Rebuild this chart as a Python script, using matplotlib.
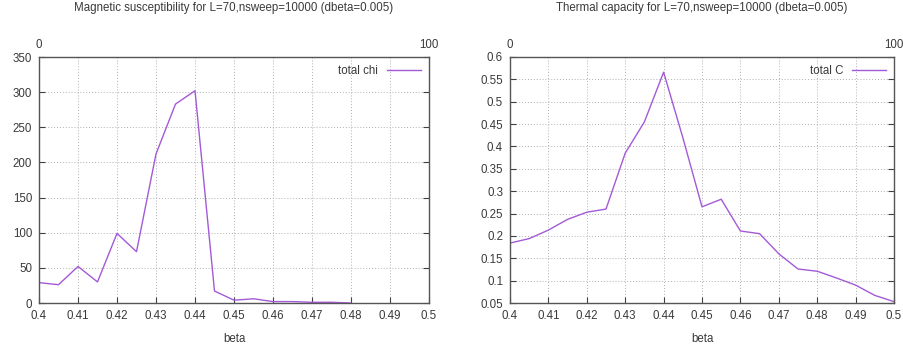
import matplotlib
matplotlib.use('agg')
from matplotlib import pyplot as plt
from matplotlib.ticker import MultipleLocator

plt.rcParams['font.family'] = ['Liberation Sans', 'DejaVu Sans']
plt.rcParams['font.size'] = 8

# beta scan, step dbeta = 0.005
BETA_CHI = [0.400, 0.405, 0.410, 0.415, 0.420, 0.425, 0.430, 0.435, 0.440,
            0.445, 0.450, 0.455, 0.460, 0.465, 0.470, 0.475, 0.480]
CHI = [29, 26, 52, 30, 99, 73, 212, 283, 302,
       17, 4, 6, 2, 2, 1, 1, 0]

BETA_C = [0.400, 0.405, 0.410, 0.415, 0.420, 0.425, 0.430, 0.435, 0.440,
          0.445, 0.450, 0.455, 0.460, 0.465, 0.470, 0.475, 0.480, 0.485,
          0.490, 0.495, 0.500]
HEAT_C = [0.184, 0.194, 0.213, 0.237, 0.253, 0.260, 0.385, 0.455, 0.566,
          0.420, 0.265, 0.282, 0.211, 0.205, 0.160, 0.126, 0.121, 0.106,
          0.090, 0.067, 0.053]

LINE_COLOR = '#a35ad6'
TEXT_COLOR = '#3a3a3a'
W, H = 904, 348


def gnuplot_panel(rect, x, y, label, title, ylim, ystep, yfmt):
    ax = fig.add_axes(rect)
    ax.plot(x, y, color=LINE_COLOR, lw=1.0, label=label)
    ax.set_xlim(0.4, 0.5)
    ax.set_ylim(*ylim)
    ax.xaxis.set_major_locator(MultipleLocator(0.01))
    ax.yaxis.set_major_locator(MultipleLocator(ystep))
    ax.xaxis.set_major_formatter(lambda v, p: ('%.2f' % v).rstrip('0').rstrip('.'))
    ax.yaxis.set_major_formatter(yfmt)
    ax.grid(True, color='#b0b0b0', linestyle=(0, (1, 2)), lw=0.7)
    ax.tick_params(direction='in', top=True, right=True, length=4,
                   width=0.8, colors='#404040', labelcolor=TEXT_COLOR,
                   labelsize=8.3, pad=5)
    for s in ax.spines.values():
        s.set_color('#555555')
        s.set_linewidth(1.0)
    ax.set_xlabel('beta', color=TEXT_COLOR, fontsize=8.3, labelpad=8)
    # title sits centred over the panel near the top edge of the figure
    fig.text(rect[0] + rect[2] / 2, 1 - 8 / H, title, color=TEXT_COLOR,
             fontsize=8.3, ha='center', va='center')
    leg = ax.legend(loc='upper right', frameon=False, markerfirst=False,
                    handlelength=2.9, borderaxespad=0.3, fontsize=8.3)
    for t in leg.get_texts():
        t.set_color(TEXT_COLOR)
    # second x axis (0..100) along the top border
    top = ax.twiny()
    top.set_xlim(0, 100)
    top.set_xticks([0, 100])
    top.tick_params(length=0, labelcolor=TEXT_COLOR, labelsize=8.3, pad=4.5)
    for s in top.spines.values():
        s.set_visible(False)
    return ax


fig = plt.figure(figsize=(W / 100, H / 100), dpi=100)

gnuplot_panel([39 / W, 1 - 303 / H, 390 / W, 246 / H], BETA_CHI, CHI,
              'total chi',
              'Magnetic susceptibility for L=70,nsweep=10000 (dbeta=0.005)',
              (0, 350), 50, lambda v, p: '%d' % v)
gnuplot_panel([510 / W, 1 - 303 / H, 384 / W, 246 / H], BETA_C, HEAT_C,
              'total C',
              'Thermal capacity for L=70,nsweep=10000 (dbeta=0.005)',
              (0.05, 0.6), 0.05,
              lambda v, p: ('%.2f' % v).rstrip('0').rstrip('.'))

fig.savefig('out.png', dpi=100)
